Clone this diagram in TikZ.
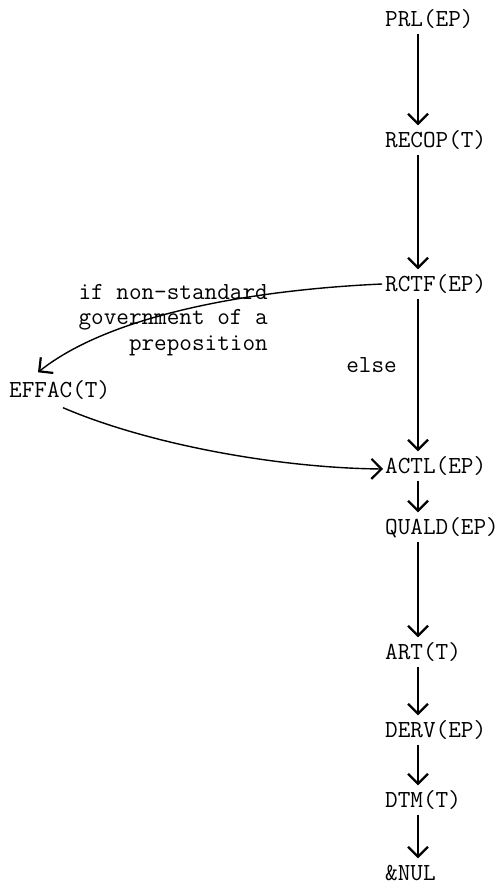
\documentclass[tikz,border=0pt]{standalone}
\usetikzlibrary{arrows.meta}
\begin{document}
\begin{tikzpicture}[x=1pt,y=-1pt,
  prog/.style={anchor=west,inner xsep=0pt,inner ysep=7pt,text height=15pt,text depth=0pt,
    font=\fontsize{24.5}{26}\selectfont\ttfamily},
  note/.style={inner sep=0pt,font=\fontsize{24.5}{25.5}\selectfont\ttfamily},
  flow/.style={line width=1.4pt,-{Straight Barb[length=10pt,width=20pt,line width=2.2pt]}}]
\useasboundingbox (0,0) rectangle (500,892);
% modules
\node[prog] (prl) at (385,19) {PRL(EP)};
\node[prog] (recop) at (385,140) {RECOP(T)};
\node[prog] (rctf) at (385,284) {RCTF(EP)};
\node[prog] (effac) at (9,390) {EFFAC(T)};
\node[prog] (actl) at (385,466) {ACTL(EP)};
\node[prog] (quald) at (385,527) {QUALD(EP)};
\node[prog] (art) at (385,652) {ART(T)};
\node[prog] (derv) at (385,730) {DERV(EP)};
\node[prog] (dtm) at (385,800) {DTM(T)};
\node[prog] (nul) at (385,873) {\&NUL};
\coordinate (spine) at (418,0);
% main chain
\foreach \a/\b in {prl/recop,recop/rctf,rctf/actl,actl/quald,quald/art,art/derv,derv/dtm,dtm/nul}
  { \draw[flow] (\a.south -| spine) -- (\b.north -| spine); }
\node[note,anchor=east] (else) at (397,365) {else};
% branch
\draw[flow] ([xshift=-3pt]rctf.west) .. controls (250,290) and (110,315) .. ([xshift=29pt,yshift=3pt]effac.north west);
\node[note,anchor=east,align=right] (cond) at (268,320) {if non-standard\\government of a\\preposition};
\draw[flow] ([xshift=54pt,yshift=-3pt]effac.south west) .. controls (150,445) and (280,468) .. ([xshift=-2pt,yshift=-3pt]actl.west);
\end{tikzpicture}
\end{document}
